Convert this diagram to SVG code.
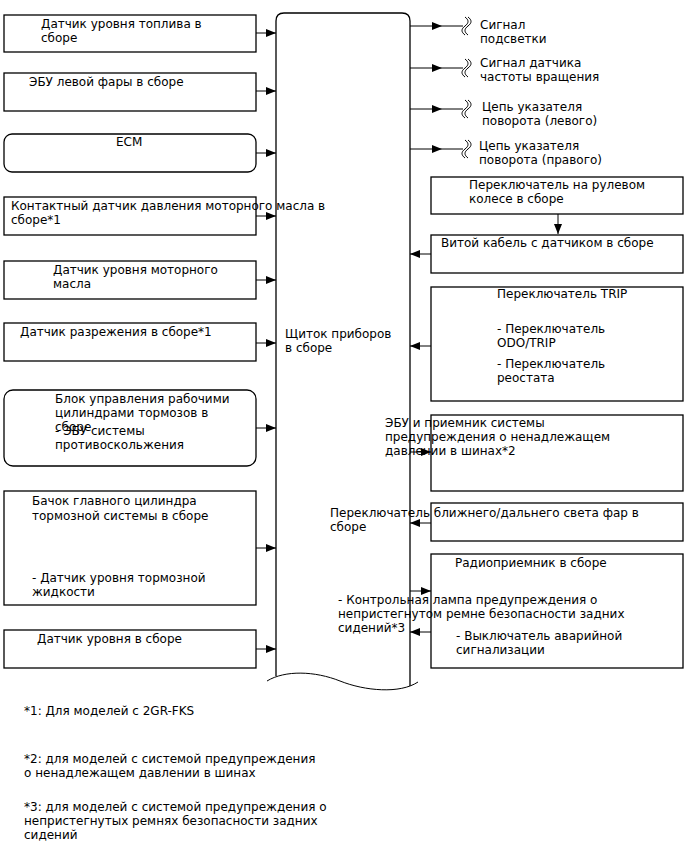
<svg xmlns="http://www.w3.org/2000/svg" width="688" height="852" viewBox="0 0 688 852">
<style>
.box{fill:#fff;stroke:#000;stroke-width:1.3}
.t{font-family:"DejaVu Sans",sans-serif;font-size:12px;fill:#000}
.ln{stroke:#000;stroke-width:1;fill:none}
</style>
<defs>
<marker id="ah" markerWidth="10" markerHeight="8" refX="10" refY="4" orient="auto" markerUnits="userSpaceOnUse">
<path d="M0,0 L10,4 L0,8 z" fill="#000"/>
</marker>
</defs>
<rect width="688" height="852" fill="#fff"/>

<g id="cluster">
<path class="box" d="M276,676 V21 Q276,13 284,13 H402 Q410,13 410,21 V686" fill="none"/>
<path class="ln" stroke-width="1.3" d="M267,681 C285,670 315,671 340,681 C365,691 400,694 418,682"/>
<text class="t" x="285" y="338">Щиток приборов</text>
<text class="t" x="285" y="352">в сборе</text>
</g>

<g id="fuel"><rect class="box" x="4" y="15" width="252" height="37"/>
<text class="t" x="41" y="28">Датчик уровня топлива в</text><text class="t" x="41" y="42">сборе</text></g>
<g id="lhead"><rect class="box" x="4" y="73" width="252" height="38"/>
<text class="t" x="29" y="86">ЭБУ левой фары в сборе</text></g>
<g id="ecm"><rect class="box" x="4" y="134" width="252" height="38" rx="8"/>
<text class="t" x="116" y="146">ECM</text></g>
<g id="oilpress"><rect class="box" x="4" y="197" width="252" height="38"/>
<text class="t" x="11" y="210">Контактный датчик давления моторного масла в</text><text class="t" x="11" y="224">сборе*1</text></g>
<g id="oillevel"><rect class="box" x="4" y="261" width="252" height="38"/>
<text class="t" x="53" y="274">Датчик уровня моторного</text><text class="t" x="53" y="288">масла</text></g>
<g id="vacuum"><rect class="box" x="4" y="323" width="252" height="38"/>
<text class="t" x="20" y="336">Датчик разрежения в сборе*1</text></g>
<g id="brakeact"><rect class="box" x="4" y="390" width="252" height="76" rx="9"/>
<text class="t" x="55" y="403">Блок управления рабочими</text><text class="t" x="55" y="417">цилиндрами тормозов в</text><text class="t" x="55" y="431">сборе</text>
<text class="t" x="55" y="435">- ЭБУ системы</text><text class="t" x="55" y="449">противоскольжения</text></g>
<g id="reservoir"><rect class="box" x="4" y="491" width="252" height="114"/>
<text class="t" x="32" y="505">Бачок главного цилиндра</text><text class="t" x="32" y="520">тормозной системы в сборе</text>
<text class="t" x="32" y="582">- Датчик уровня тормозной</text><text class="t" x="32" y="596">жидкости</text></g>
<g id="level"><rect class="box" x="4" y="630" width="252" height="38"/>
<text class="t" x="37" y="643">Датчик уровня в сборе</text></g>

<g id="out1"><text class="t" x="480" y="29">Сигнал</text><text class="t" x="480" y="43">подсветки</text></g>
<g id="out2"><text class="t" x="480" y="67">Сигнал датчика</text><text class="t" x="480" y="81">частоты вращения</text></g>
<g id="out3"><text class="t" x="482" y="111">Цепь указателя</text><text class="t" x="482" y="125">поворота (левого)</text></g>
<g id="out4"><text class="t" x="479" y="150">Цепь указателя</text><text class="t" x="479" y="164">поворота (правого)</text></g>

<g id="steersw"><rect class="box" x="431" y="177" width="252" height="37"/>
<text class="t" x="469" y="189">Переключатель на рулевом</text><text class="t" x="469" y="203">колесе в сборе</text></g>
<g id="spiral"><rect class="box" x="431" y="235" width="252" height="38"/>
<text class="t" x="441" y="247">Витой кабель с датчиком в сборе</text></g>
<g id="trip"><rect class="box" x="431" y="287" width="252" height="114"/>
<text class="t" x="497" y="298">Переключатель TRIP</text>
<text class="t" x="497" y="333">- Переключатель</text><text class="t" x="497" y="347">ODO/TRIP</text>
<text class="t" x="497" y="368">- Переключатель</text><text class="t" x="497" y="382">реостата</text></g>
<g id="tpms"><rect class="box" x="431" y="415" width="252" height="76"/>
<text class="t" x="385" y="427">ЭБУ и приемник системы</text><text class="t" x="385" y="441">предупреждения о ненадлежащем</text><text class="t" x="385" y="455">давлении в шинах*2</text></g>
<g id="dimmer"><rect class="box" x="431" y="503" width="252" height="38"/>
<text class="t" x="330" y="517">Переключатель ближнего/дальнего света фар в</text><text class="t" x="330" y="531">сборе</text></g>
<g id="radio"><rect class="box" x="431" y="554" width="252" height="114"/>
<text class="t" x="455" y="567">Радиоприемник в сборе</text>
<text class="t" x="338" y="604">- Контрольная лампа предупреждения о</text><text class="t" x="338" y="618">непристегнутом ремне безопасности задних</text><text class="t" x="338" y="632">сидений*3</text>
<text class="t" x="456" y="640">- Выключатель аварийной</text><text class="t" x="456" y="654">сигнализации</text></g>

<g id="connectors">
<path class="ln" marker-end="url(#ah)" d="M256,33 H276"/>
<path class="ln" marker-end="url(#ah)" d="M256,91 H276"/>
<path class="ln" marker-end="url(#ah)" d="M256,153 H276"/>
<path class="ln" marker-end="url(#ah)" d="M256,216 H276"/>
<path class="ln" marker-end="url(#ah)" d="M256,280 H276"/>
<path class="ln" marker-end="url(#ah)" d="M256,343 H276"/>
<path class="ln" marker-end="url(#ah)" d="M256,428 H276"/>
<path class="ln" marker-end="url(#ah)" d="M256,548 H276"/>
<path class="ln" marker-end="url(#ah)" d="M256,649 H276"/>

<path class="ln" marker-end="url(#ah)" d="M410,26 H442"/><path class="ln" d="M442,26 H463"/>
<path class="ln" marker-end="url(#ah)" d="M410,68 H442"/><path class="ln" d="M442,68 H463"/>
<path class="ln" marker-end="url(#ah)" d="M410,109 H442"/><path class="ln" d="M442,109 H463"/>
<path class="ln" marker-end="url(#ah)" d="M410,149 H442"/><path class="ln" d="M442,149 H463"/>
<path class="ln" d="M465,17 c4,3 4,6 0,9 c-4,3 -4,6 0,9 M468,17 c4,3 4,6 0,9 c-4,3 -4,6 0,9"/>
<path class="ln" d="M465,59 c4,3 4,6 0,9 c-4,3 -4,6 0,9 M468,59 c4,3 4,6 0,9 c-4,3 -4,6 0,9"/>
<path class="ln" d="M465,100 c4,3 4,6 0,9 c-4,3 -4,6 0,9 M468,100 c4,3 4,6 0,9 c-4,3 -4,6 0,9"/>
<path class="ln" d="M465,140 c4,3 4,6 0,9 c-4,3 -4,6 0,9 M468,140 c4,3 4,6 0,9 c-4,3 -4,6 0,9"/>

<path class="ln" marker-end="url(#ah)" d="M558,214 V234"/>
<path class="ln" marker-end="url(#ah)" d="M431,254 H410"/>
<path class="ln" marker-end="url(#ah)" d="M431,346 H410"/>
<path class="ln" marker-end="url(#ah)" d="M410,452 H431"/>
<path class="ln" marker-end="url(#ah)" d="M431,523 H410"/>
<path class="ln" marker-end="url(#ah)" d="M410,591 H431"/>
<path class="ln" marker-end="url(#ah)" d="M431,632 H410"/>
</g>

<g id="notes">
<text class="t" x="24" y="715">*1: Для моделей с 2GR-FKS</text>
<text class="t" x="24" y="763">*2: для моделей с системой предупреждения</text>
<text class="t" x="24" y="777">о ненадлежащем давлении в шинах</text>
<text class="t" x="24" y="811">*3: для моделей с системой предупреждения о</text>
<text class="t" x="24" y="825">непристегнутых ремнях безопасности задних</text>
<text class="t" x="24" y="839">сидений</text>
</g>
</svg>
